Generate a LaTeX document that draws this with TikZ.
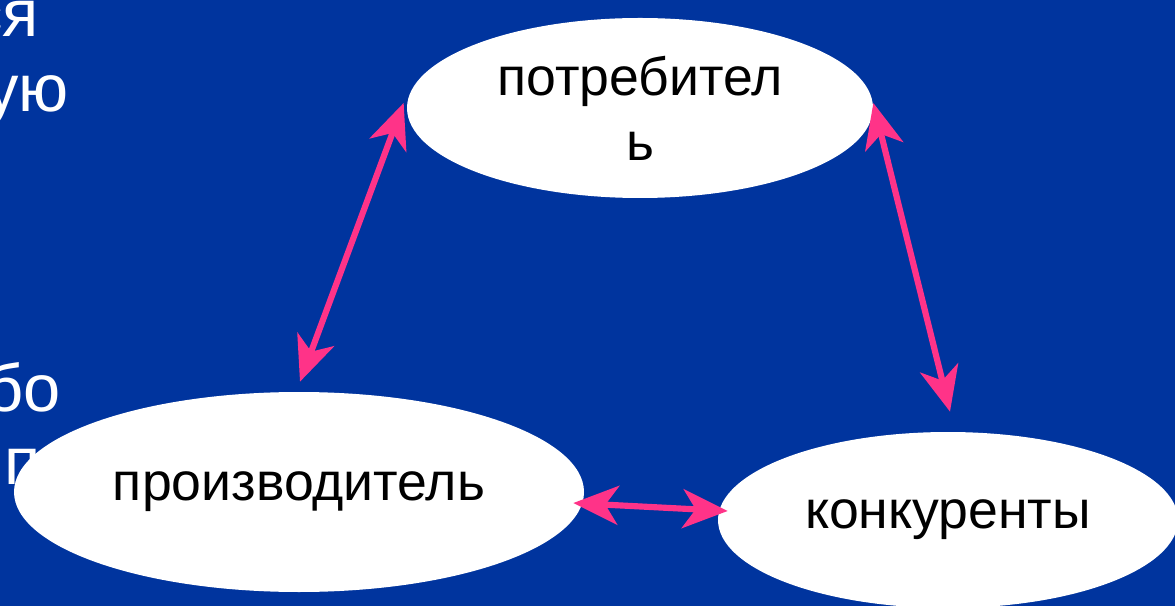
\documentclass[tikz,border=0pt]{standalone}
\usepackage{fontspec}
\setmainfont{Liberation Sans}
\usetikzlibrary{shapes.geometric,arrows.meta,calc}

\definecolor{slideblue}{RGB}{0,52,158}
\definecolor{arrowpink}{RGB}{255,51,136}

\begin{document}
\begin{tikzpicture}
\tikzstyle{party} = [ellipse, draw=none, fill=white, inner sep=0pt, align=center, font=\fontsize{30.5}{37}\selectfont]
\tikzstyle{link} = [draw=arrowpink, line width=3.5pt, {Stealth[length=9mm,width=7.8mm,inset=2.6mm]}-{Stealth[length=9mm,width=7.8mm,inset=2.6mm]}]
\tikzstyle{behind} = [text=white, inner sep=0pt, font=\fontsize{38}{46}\selectfont]

% Slide background
\clip (0,0) rectangle (23.5,12.12);
\fill [slideblue] (0,0) rectangle (23.5,12.12);

% Text of the slide, cut off at the left edge
\node [behind, anchor=base east] (lineA) at (0.78,11.38) {ся};
\node [behind, anchor=base east] (lineB) at (1.38,9.88) {ую};
\node [behind, anchor=base east] (lineC) at (1.22,3.9) {бо};
\node [behind, anchor=base west] (lineD) at (0.08,2.44) {п};

% The three parties
\node [party, minimum width=9.32cm, minimum height=3.6cm] (consumer) at (12.8,9.96) {потребител\\ь};
\node [party, minimum width=11.4cm, minimum height=4cm] (producer) at (5.98,2.28) {производитель};
\node [party, minimum width=9.2cm, minimum height=3.52cm] (rivals) at (18.96,1.72) {конкуренты};

% Connections
\draw [link] ($(consumer.west)+(-0.06,0.1)$) -- ($(producer.north)+(0.02,0.2)$);
\draw [link] ($(consumer.east)+(0,0.1)$) -- ($(rivals.north)+(0.04,0.4)$);
\draw [link] ($(producer.east)+(-0.22,-0.22)$) -- ($(rivals.west)+(0.2,0.18)$);

\end{tikzpicture}
\end{document}
